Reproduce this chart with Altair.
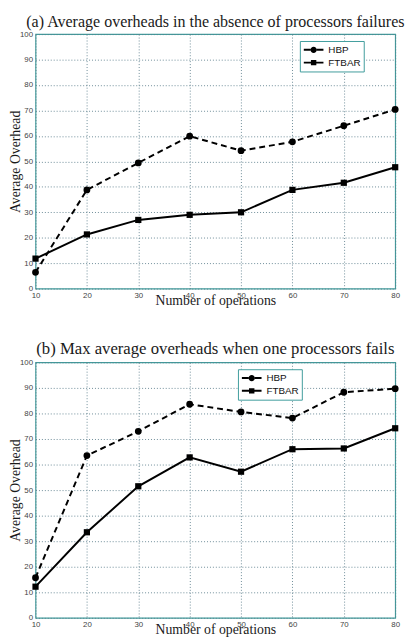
import altair as alt
import pandas as pd

ops = [10, 20, 30, 40, 50, 60, 70, 80]
hbp_a = [6.4, 38.8, 49.4, 59.9, 54.2, 57.7, 64.0, 70.4]
ftbar_a = [11.8, 21.3, 27.0, 29.0, 30.0, 38.8, 41.6, 47.7]
hbp_b = [15.7, 63.5, 73.0, 83.6, 80.6, 78.2, 88.3, 89.7]
ftbar_b = [12.2, 33.5, 51.5, 62.8, 57.2, 66.0, 66.3, 74.2]
series = ["HBP", "FTBAR"]
x_ticks = [10, 20, 30, 40, 50, 60, 70, 80]
y_ticks = [0, 10, 20, 30, 40, 50, 60, 70, 80, 90, 100]
title_a = "(a) Average overheads in the absence of processors failures"
title_b = "(b) Max average overheads when one processors fails"
x_title = "Number of operations"
y_title = "Average Overhead"

FRAME = "#3f9c9c"
GRID = "#5d7f8c"

# legend glyphs (unit = 5px at symbolSize 100): short line with a circle / square marker
PATH_CIRCLE = ("M-1,-0.2H0.35V0.2H-1Z M1.65,-0.2H3V0.2H1.65Z "
               "M0.35,0A0.65,0.65 0 1,1 1.65,0A0.65,0.65 0 1,1 0.35,0Z")
PATH_SQUARE = ("M-1,-0.2H0.45V0.2H-1Z M1.55,-0.2H3V0.2H1.55Z "
               "M0.45,-0.55H1.55V0.55H0.45Z")


def panel(hbp, ftbar, title, tsize, height, lx, ly):
    df = pd.DataFrame({
        "ops": ops + ops,
        "val": hbp + ftbar,
        "series": [series[0]] * len(ops) + [series[1]] * len(ops),
    })
    base = alt.Chart(df)
    x = alt.X("ops:Q", scale=alt.Scale(domain=[10, 80], nice=False, zero=False),
              axis=alt.Axis(values=x_ticks, title=x_title, titlePadding=-6,
                            labelFlush=False, labelOverlap=False))
    y = alt.Y("val:Q", scale=alt.Scale(domain=[0, 100], nice=False),
              axis=alt.Axis(values=y_ticks, title=y_title, titlePadding=-3,
                            labelOverlap=False))
    is_hbp = alt.datum.series == series[0]
    is_ftbar = alt.datum.series == series[1]
    line_h = base.mark_line(color="black", strokeWidth=2, strokeDash=[6, 4]).encode(
        x=x, y=y).transform_filter(is_hbp)
    line_f = base.mark_line(color="black", strokeWidth=2).encode(
        x=x, y=y).transform_filter(is_ftbar)
    circles = base.mark_point(shape="circle", filled=True, size=48, color="black",
                              opacity=1).encode(x=x, y=y).transform_filter(is_hbp)
    squares = base.mark_point(shape="square", filled=True, size=40, color="black",
                              opacity=1).encode(x=x, y=y).transform_filter(is_ftbar)
    legend = alt.Legend(title=None, orient="none", legendX=lx, legendY=ly,
                        strokeColor=FRAME, fillColor="white", padding=3,
                        symbolSize=100, labelOffset=14,
                        labelFont="Liberation Sans", labelFontSize=10,
                        labelColor="#111", rowPadding=0)
    leg = base.mark_point(filled=True, color="black", opacity=1).encode(
        x=x, y=y,
        shape=alt.Shape("series:N",
                        scale=alt.Scale(domain=series, range=[PATH_CIRCLE, PATH_SQUARE]),
                        legend=legend),
    ).transform_filter(alt.datum.val > 1000)
    return alt.layer(line_h, line_f, circles, squares, leg).properties(
        width=366, height=height,
        title=alt.Title(title, anchor="middle", font="Liberation Serif", fontSize=tsize,
                        fontWeight="normal", color="#1a1a1a", offset=0),
    )


a = panel(hbp_a, ftbar_a, title_a, 16.3, 259, 269, 7)
b = panel(hbp_b, ftbar_b, title_b, 17, 260, 206, 7)

chart = alt.vconcat(a, b, spacing=32).resolve_scale(
    shape="independent"
).resolve_legend(shape="independent").properties(padding=0).configure_view(
    stroke=FRAME, strokeWidth=1.2
).configure_axis(
    domain=False, tickSize=0, labelPadding=3,
    labelFont="Liberation Sans", labelFontSize=8, labelColor="#444",
    titleFont="Liberation Serif", titleFontSize=14, titleFontWeight="normal",
    titleColor="#1a1a1a",
    gridColor=GRID, gridDash=[1, 2], gridWidth=1, gridOpacity=0.9,
)

chart.save("out.html", embed_options={"renderer": "svg", "actions": False})
